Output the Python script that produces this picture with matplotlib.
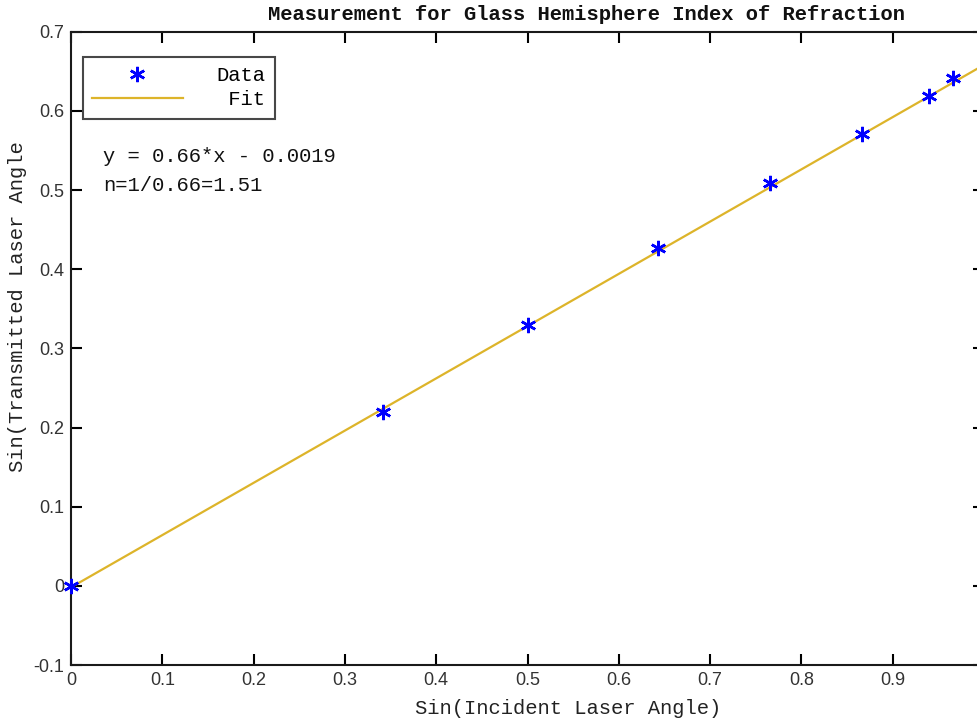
import matplotlib
matplotlib.use("Agg")
import matplotlib.pyplot as plt
import numpy as np

# Data
sin_incident = [0.0, 0.342, 0.500, 0.643, 0.766, 0.866, 0.940, 0.966]
sin_transmitted = [0.0, 0.220, 0.330, 0.427, 0.509, 0.571, 0.619, 0.641]
fit_slope = 0.66
fit_intercept = -0.0019
fit_x = [0.0, 1.0]
x_ticks = [0, 0.1, 0.2, 0.3, 0.4, 0.5, 0.6, 0.7, 0.8, 0.9]
x_ticklabels = ["0", "0.1", "0.2", "0.3", "0.4", "0.5", "0.6", "0.7", "0.8", "0.9"]
y_ticks = [-0.1, 0, 0.1, 0.2, 0.3, 0.4, 0.5, 0.6, 0.7]
y_ticklabels = ["-0.1", "0", "0.1", "0.2", "0.3", "0.4", "0.5", "0.6", "0.7"]
title = "Measurement for Glass Hemisphere Index of Refraction"
xlabel = "Sin(Incident Laser Angle)"
ylabel = "Sin(Transmitted Laser Angle"
eq_text = "y = 0.66*x - 0.0019"
n_text = "n=1/0.66=1.51"

W, H = 978, 721
fig = plt.figure(figsize=(W / 100, H / 100), dpi=100)
L, R, T, B = 71, 984, 31.7, 665
ax = fig.add_axes([L / W, 1 - B / H, (R - L) / W, (B - T) / H])

mono = "Liberation Mono"
sans = "Liberation Sans"
fit_color = "#DDB42A"
fs = 14.8

fy = [fit_slope * x + fit_intercept for x in fit_x]
fit_line, = ax.plot(fit_x, fy, color=fit_color, lw=1.6, zorder=2)
data_line, = ax.plot(sin_incident, sin_transmitted, linestyle="none", marker=(6, 2, 0),
                     markersize=11, markeredgewidth=1.8, color="#0000FF", zorder=3,
                     clip_on=False)

ax.set_xlim(0, 1)
ax.set_ylim(-0.1, 0.7)
ax.set_xticks(x_ticks)
ax.set_xticklabels(x_ticklabels)
ax.set_yticks(y_ticks)
ax.set_yticklabels(y_ticklabels)
ax.tick_params(direction="in", length=8, width=1.5, top=True, right=True,
               labelsize=13, labelcolor="#333333", pad=5)
for lab in ax.get_xticklabels() + ax.get_yticklabels():
    lab.set_fontfamily(sans)
for s in ax.spines.values():
    s.set_linewidth(1.5)
    s.set_color("#1a1a1a")

ax.text(0.035, 0.542, eq_text, fontsize=fs, family=mono, va="center", ha="left",
        color="#111111")
ax.text(0.035, 0.506, n_text, fontsize=fs, family=mono, va="center", ha="left",
        color="#111111")

leg = ax.legend([data_line, fit_line], ["Data", " Fit"],
                loc="upper left", bbox_to_anchor=(0.013, 0.96), borderaxespad=0,
                prop={"family": mono, "size": fs}, frameon=True, fancybox=False,
                handlelength=4.4, handletextpad=1.65, borderpad=0.45, labelspacing=0.25,
                edgecolor="#1a1a1a")
leg.get_frame().set_linewidth(1.5)

fig.text(586 / W, 1 - 14 / H, title, fontsize=fs, family=mono, fontweight="bold",
         ha="center", va="center", color="#111111")
fig.text(568 / W, 1 - 708 / H, xlabel, fontsize=fs, family=mono,
         ha="center", va="center", color="#222222")
fig.text(18 / W, 1 - 307 / H, ylabel, fontsize=fs, family=mono, rotation=90,
         ha="center", va="center", color="#222222")

fig.savefig("out.png", dpi=100)
